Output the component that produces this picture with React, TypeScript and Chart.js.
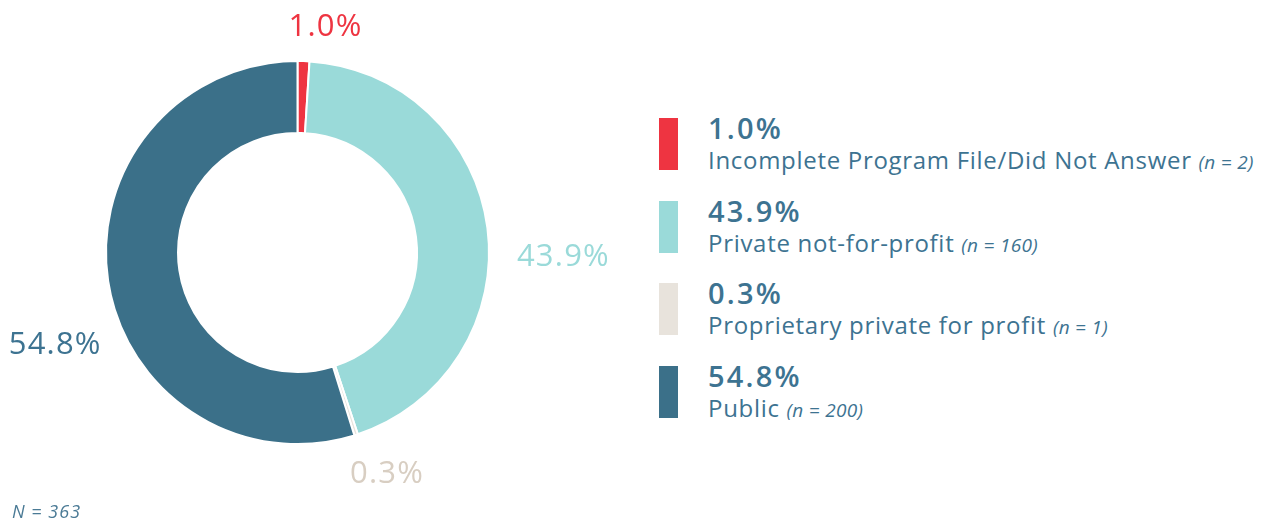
import React, { useEffect, useRef } from "react";
import { Chart, registerables } from "chart.js";

Chart.register(...registerables);

const categories = [
  "Incomplete Program File/Did Not Answer",
  "Private not-for-profit",
  "Proprietary private for profit",
  "Public",
];
const percents = [1.0, 43.9, 0.3, 54.8];
const counts = [2, 160, 1, 200];
const totalN = 363;

const sliceColors = ["#ee3441", "#9adad9", "#e8e3dc", "#3b7089"];
const outerLabelColors = ["#ee3441", "#9adad9", "#d8cec2", "#3d7391"];
// offset of each outer label (center x, baseline y) from its slice's outer mid point
const outerLabelOffsets: [number, number][] = [
  [22, -25],
  [76, 38],
  [31, 48],
  [-53, 73],
];

const FONT = "'Open Sans', 'Noto Sans', sans-serif";
const TEXT_BLUE = "#3d7391";

const outerLabelsPlugin = {
  id: "outerLabels",
  afterDatasetsDraw(chart: any) {
    const meta = chart.getDatasetMeta(0);
    const ctx = chart.ctx;
    ctx.save();
    ctx.font = `400 31px ${FONT}`;
    (ctx as any).letterSpacing = "1.2px";
    ctx.textAlign = "center";
    ctx.textBaseline = "alphabetic";
    meta.data.forEach((arc: any, i: number) => {
      const p = arc.getProps(["x", "y", "startAngle", "endAngle", "outerRadius"], true);
      const mid = (p.startAngle + p.endAngle) / 2;
      const ax = p.x + Math.cos(mid) * p.outerRadius;
      const ay = p.y + Math.sin(mid) * p.outerRadius;
      const [dx, dy] = outerLabelOffsets[i];
      ctx.fillStyle = outerLabelColors[i];
      ctx.fillText(`${percents[i].toFixed(1)}%`, ax + dx, ay + dy);
    });
    ctx.restore();
  },
};

export default function App() {
  const canvasRef = useRef<HTMLCanvasElement | null>(null);

  useEffect(() => {
    if (!canvasRef.current) return;
    const chart = new Chart(canvasRef.current, {
      type: "doughnut",
      data: {
        labels: categories,
        datasets: [
          {
            data: percents,
            backgroundColor: sliceColors,
            borderColor: "#ffffff",
            borderWidth: 2,
            hoverOffset: 0,
          },
        ],
      },
      options: {
        animation: false,
        responsive: true,
        maintainAspectRatio: false,
        cutout: "62.4%",
        layout: { padding: { left: 105, top: 60, right: 130, bottom: 78 } },
        plugins: {
          legend: { display: false },
          tooltip: { enabled: false },
        },
      },
      plugins: [outerLabelsPlugin],
    });
    return () => chart.destroy();
  }, []);

  return (
    <div
      style={{
        position: "absolute",
        left: 0,
        top: 0,
        width: 1270,
        height: 523,
        background: "#ffffff",
        overflow: "hidden",
        fontFamily: FONT,
      }}
    >
      <div style={{ position: "absolute", left: 0, top: 0, width: 620, height: 523 }}>
        <canvas ref={canvasRef} />
      </div>
      <div
        style={{
          position: "absolute",
          left: 659,
          top: 118,
          display: "flex",
          flexDirection: "column",
          gap: 30.7,
        }}
      >
        {categories.map((c, i) => (
          <div key={c} style={{ position: "relative", height: 52, display: "flex" }}>
            <div style={{ width: 19, height: 52, background: sliceColors[i] }} />
            <div style={{ position: "relative", marginLeft: 30, height: 52, width: 580 }}>
              <div
                style={{
                  position: "absolute",
                  left: 0,
                  top: -6,
                  fontSize: 29,
                  lineHeight: "32px",
                  fontWeight: 600,
                  letterSpacing: 2.2,
                  color: TEXT_BLUE,
                  whiteSpace: "nowrap",
                }}
              >
                {percents[i].toFixed(1)}%
              </div>
              <div
                style={{
                  position: "absolute",
                  left: 0,
                  top: 27,
                  fontSize: 24,
                  lineHeight: "30px",
                  fontWeight: 400,
                  letterSpacing: 0.7,
                  color: TEXT_BLUE,
                  whiteSpace: "nowrap",
                }}
              >
                {c}{" "}
                <span style={{ fontStyle: "italic", fontSize: 19, letterSpacing: 0.3 }}>
                  (n = {counts[i]})
                </span>
              </div>
            </div>
          </div>
        ))}
      </div>
      <div
        style={{
          position: "absolute",
          left: 12,
          top: 500,
          fontSize: 18,
          lineHeight: "22px",
          fontStyle: "italic",
          letterSpacing: 1,
          color: "#4a7a95",
          whiteSpace: "nowrap",
        }}
      >
        N = {totalN}
      </div>
    </div>
  );
}
